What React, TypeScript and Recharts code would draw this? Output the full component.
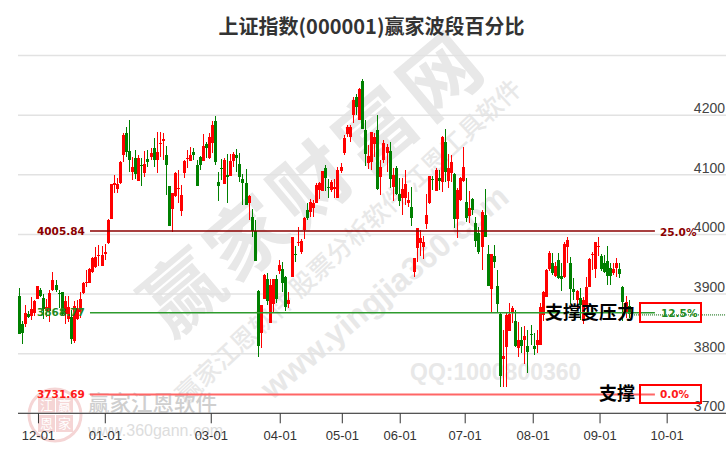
import { ComposedChart, Bar, XAxis, YAxis, CartesianGrid, ReferenceLine } from "recharts";

const opens = [
  3896, 3849, 3849, 3866, 3864, 3869, 3892, 3907, 3893, 3871,
  3872, 3907, 3916, 3901, 3904, 3867, 3858, 3861, 3821, 3858,
  3870, 3902, 3919, 3919, 3937, 3945, 3964, 3947, 3968, 3986,
  4026, 4083, 4076, 4086, 4133, 4170, 4140, 4105, 4128, 4090,
  4116, 4103, 4127, 4130, 4145, 4125, 4151, 4157, 4133, 4081,
  4043, 4065, 4076, 4039, 4103, 4126, 4123, 4138, 4117, 4130,
  4123, 4152, 4128, 4154, 4190, 4088, 4111, 4085, 4100, 4098,
  4123, 4133, 4118, 4093, 4086, 4053, 4029, 4006, 3905, 3834,
  3892, 3925, 3851, 3883, 3925, 3939, 3942, 3928, 3883, 3929,
  3968, 3985, 3971, 4008, 4041, 4038, 4045, 4053, 4075, 4073,
  4112, 4080, 4075, 4077, 4061, 4107, 4137, 4169, 4164, 4200,
  4231, 4192, 4258, 4175, 4120, 4122, 4152, 4175, 4096, 4125,
  4137, 4140, 4080, 4112, 4068, 4061, 4061, 4053, 4046, 3937,
  3977, 3986, 3979, 4018, 4053, 4093, 4073, 4094, 4088, 4155,
  4090, 4103, 4102, 4026, 4058, 4090, 4054, 4031, 4059, 4019,
  4003, 3979, 4033, 3967, 3909, 3964, 3914, 3867, 3791, 3811,
  3838, 3868, 3855, 3810, 3823, 3823, 3813, 3833, 3813, 3815,
  3815, 3865, 3895, 3942, 3952, 3930, 3957, 3930, 3929, 3979,
  3952, 3908, 3890, 3893, 3855, 3878, 3912, 3966, 3942, 3979,
  3964, 3952, 3956, 3944, 3935, 3944, 3942, 3912, 3869, 3880,
];

const closes = [
  3833, 3835, 3868, 3862, 3875, 3889, 3914, 3897, 3875, 3879,
  3902, 3924, 3907, 3900, 3867, 3889, 3879, 3825, 3880, 3877,
  3892, 3919, 3921, 3942, 3961, 3963, 3966, 3966, 3970, 4024,
  4085, 4087, 4085, 4122, 4167, 4138, 4125, 4113, 4101, 4128,
  4114, 4118, 4122, 4137, 4125, 4138, 4153, 4160, 4117, 4014,
  4070, 4103, 4078, 4066, 4123, 4129, 4133, 4133, 4081, 4117,
  4148, 4145, 4164, 4184, 4122, 4081, 4109, 4125, 4096, 4123,
  4135, 4128, 4096, 4086, 4050, 4065, 4006, 3955, 3813, 3882,
  3932, 3889, 3915, 3925, 3892, 3949, 3919, 3879, 3890, 3996,
  3966, 3988, 3989, 4028, 4028, 4054, 4053, 4083, 4086, 4107,
  4095, 4078, 4088, 4079, 4108, 4113, 4162, 4180, 4180, 4226,
  4214, 4244, 4177, 4135, 4132, 4172, 4163, 4077, 4113, 4153,
  4147, 4093, 4100, 4068, 4056, 4076, 4085, 4058, 4028, 3961,
  4011, 3994, 3987, 4033, 4098, 4091, 4108, 4090, 4163, 4105,
  4112, 4122, 4026, 4075, 4095, 4113, 4028, 4045, 4041, 3989,
  3971, 4038, 3996, 3914, 3967, 3954, 3883, 3762, 3796, 3865,
  3866, 3877, 3813, 3823, 3813, 3830, 3803, 3831, 3808, 3823,
  3878, 3903, 3940, 3969, 3935, 3947, 3927, 3925, 3984, 3991,
  3908, 3903, 3905, 3882, 3890, 3912, 3959, 3968, 3987, 3981,
  3942, 3937, 3930, 3930, 3942, 3952, 3934, 3887, 3887, 3866,
];

const highs = [
  3911, 3855, 3882, 3872, 3895, 3890, 3914, 3910, 3900, 3892,
  3906, 3937, 3924, 3906, 3904, 3897, 3897, 3873, 3888, 3890,
  3904, 3920, 3940, 3944, 3962, 3979, 3983, 3981, 3984, 4026,
  4085, 4100, 4095, 4123, 4170, 4180, 4192, 4130, 4142, 4133,
  4128, 4140, 4142, 4145, 4162, 4172, 4172, 4170, 4148, 4081,
  4070, 4105, 4108, 4083, 4125, 4142, 4147, 4145, 4125, 4132,
  4168, 4155, 4170, 4190, 4199, 4105, 4127, 4128, 4135, 4135,
  4138, 4143, 4137, 4101, 4110, 4067, 4043, 4024, 3907, 3882,
  3934, 3935, 3925, 3925, 3932, 3957, 3954, 3930, 3904, 3996,
  3981, 4012, 3993, 4030, 4053, 4060, 4058, 4086, 4088, 4107,
  4117, 4093, 4091, 4093, 4113, 4120, 4167, 4184, 4184, 4231,
  4235, 4246, 4260, 4192, 4150, 4172, 4170, 4200, 4125, 4158,
  4152, 4155, 4112, 4115, 4095, 4095, 4108, 4072, 4080, 3961,
  4011, 4008, 3997, 4068, 4098, 4098, 4112, 4108, 4165, 4177,
  4135, 4133, 4103, 4078, 4097, 4147, 4095, 4073, 4061, 4029,
  4012, 4041, 4076, 3982, 3967, 3982, 3940, 3870, 3840, 3868,
  3885, 3880, 3873, 3853, 3845, 3846, 3840, 3848, 3835, 3840,
  3885, 3905, 3942, 3972, 3969, 3954, 3969, 3952, 3987, 3996,
  3962, 3927, 3907, 3910, 3895, 3928, 3960, 3970, 3987, 3996,
  3967, 3966, 3981, 3952, 3952, 3961, 3952, 3913, 3897, 3890,
];

const lows = [
  3833, 3817, 3845, 3860, 3857, 3864, 3891, 3895, 3858, 3862,
  3853, 3905, 3903, 3877, 3864, 3850, 3853, 3816, 3818, 3856,
  3860, 3900, 3912, 3918, 3936, 3943, 3947, 3947, 3957, 3984,
  4026, 4070, 4070, 4085, 4122, 4130, 4105, 4091, 4093, 4090,
  4081, 4096, 4113, 4125, 4113, 4103, 4130, 4125, 4066, 4014,
  4004, 4063, 4053, 4031, 4095, 4112, 4123, 4125, 4081, 4108,
  4123, 4128, 4127, 4137, 4117, 4056, 4092, 4085, 4053, 4098,
  4113, 4105, 4088, 4049, 4050, 4024, 3996, 3955, 3794, 3810,
  3892, 3882, 3851, 3870, 3885, 3934, 3904, 3872, 3877, 3929,
  3954, 3981, 3967, 3992, 4024, 4030, 4029, 4053, 4060, 4073,
  4073, 4061, 4071, 4061, 4061, 4103, 4133, 4164, 4155, 4187,
  4200, 4192, 4177, 4115, 4110, 4108, 4130, 4075, 4066, 4120,
  4105, 4078, 4056, 4066, 4048, 4033, 4049, 4046, 4014, 3928,
  3954, 3964, 3959, 4009, 4051, 4075, 4073, 4075, 4071, 4088,
  4078, 4088, 4011, 3994, 4056, 4088, 4021, 4019, 4033, 3979,
  3968, 3940, 3996, 3913, 3870, 3944, 3868, 3744, 3744, 3744,
  3838, 3851, 3812, 3794, 3801, 3783, 3768, 3815, 3798, 3801,
  3815, 3855, 3895, 3939, 3932, 3928, 3925, 3905, 3927, 3952,
  3883, 3890, 3873, 3857, 3850, 3875, 3912, 3940, 3927, 3964,
  3939, 3935, 3915, 3915, 3932, 3929, 3927, 3855, 3860, 3860,
];

const monthLabels = ["12-01", "01-01", "03-01", "04-01", "05-01", "06-01", "07-01", "08-01", "09-01", "10-01"];
const monthTicks = [6.26, 28.06, 62.64, 85.15, 105.4, 124.3, 145.5, 167.7, 189.5, 211.4];
const priceTicks = [3700, 3800, 3900, 4000, 4100, 4200];

const resistance = 4005.84;
const middle = 3868.77;
const support = 3731.69;
const lastClose = 3865;

const RED = "#ff0000";
const GREEN = "#008000";
const SANS = "'Liberation Sans', Arial, sans-serif";
const CJK = "'Noto Sans CJK SC', sans-serif";
const BOLD = "'DejaVu Sans', sans-serif";

const rows = opens.map((open, i) => ({
  day: i,
  open,
  close: closes[i],
  high: highs[i],
  low: lows[i],
  range: [lows[i], highs[i]],
}));

function Candle(props: any) {
  const { x, y, width, height, payload } = props;
  const top = Math.min(y, y + height);
  const h = Math.abs(height);
  const perPoint = h / (payload.high - payload.low);
  const up = payload.close >= payload.open;
  const color = up ? RED : GREEN;
  const bodyTop = top + (payload.high - Math.max(payload.open, payload.close)) * perPoint;
  const bodyH = Math.max(1, Math.abs(payload.close - payload.open) * perPoint);
  const cx = Math.floor(x + width / 2);
  return (
    <g shapeRendering="crispEdges">
      <rect x={cx} y={top} width={1} height={h} fill={color} />
      <rect x={cx - 1} y={bodyTop} width={3} height={bodyH} fill={color} />
    </g>
  );
}

function PriceTick({ y, payload }: any) {
  return (
    <text x={725} y={y - 2} textAnchor="end" fontFamily={SANS} fontSize={14} fill="#444">
      {payload.value}
    </text>
  );
}

function MonthTick({ x, y, payload }: any) {
  const label = monthLabels[monthTicks.indexOf(payload.value)];
  return (
    <text x={x} y={y + 15} textAnchor="middle" fontFamily={SANS} fontSize={13} fill="#333">
      {label}
    </text>
  );
}

function Watermarks() {
  return (
    <svg width={726} height={450} style={{ position: "absolute", left: 0, top: 0 }}>
      <text
        transform="translate(318 188) rotate(-40)"
        textAnchor="middle"
        dominantBaseline="middle"
        fontFamily={CJK}
        fontWeight={700}
        fontSize={78}
        letterSpacing={6}
        fill="#e8e8e8"
      >
        赢家财富网
      </text>
      <text
        transform="translate(350 243) rotate(-43)"
        textAnchor="middle"
        dominantBaseline="middle"
        fontFamily={CJK}
        fontSize={25}
        fontWeight={500}
        fill="#e8e8e8"
      >
        赢家江恩软件 股票分析软件 江恩工具软件
      </text>
      <text
        transform="translate(386 294) rotate(-40)"
        textAnchor="middle"
        dominantBaseline="middle"
        fontFamily={SANS}
        fontWeight={700}
        fontSize={32}
        fill="#e8e8e8"
      >
        www.yingjia360.com
      </text>
      <text x={410} y={380} fontFamily={SANS} fontWeight={700} fontSize={23} fill="#e8e8e8">
        QQ:1000800360
      </text>
      <circle cx={55} cy={415} r={26} fill="none" stroke="#f5d5d5" strokeWidth={3} />
      <rect x={38} y={397} width={17} height={17} fill="#f5d5d5" />
      <rect x={56} y={397} width={17} height={17} fill="#f5d5d5" />
      <rect x={38} y={415} width={17} height={17} fill="#f5d5d5" />
      <rect x={56} y={415} width={17} height={17} fill="#f5d5d5" />
      <g fontFamily={CJK} fontSize={13} fill="#fff" textAnchor="middle">
        <text x={46.5} y={410}>江</text>
        <text x={64.5} y={410}>赢</text>
        <text x={46.5} y={428}>恩</text>
        <text x={64.5} y={428}>家</text>
      </g>
      <text x={88} y={411} fontFamily={CJK} fontWeight={500} fontSize={21.5} fill="#cfcfcf">
        赢家江恩软件
      </text>
      <text x={88} y={436} fontFamily={SANS} fontSize={16} fill="#dddddd">
        www.360gann.com
      </text>
    </svg>
  );
}

function Annotations() {
  return (
    <svg width={726} height={450} style={{ position: "absolute", left: 0, top: 0, pointerEvents: "none" }}>
      <text x={371.5} y={34} textAnchor="middle" fontFamily={CJK} fontWeight={700} fontSize={20} fill="#333">
        上证指数(000001)赢家波段百分比
      </text>
      <g fontFamily={BOLD} fontWeight={700} fontSize={10.5}>
        <text x={37} y={235} fill="#8b0000">4005.84</text>
        <text x={37} y={316} fill="#228b22">3868.77</text>
        <text x={37} y={398} fill="#ff1a1a">3731.69</text>
        <text x={660} y={236} fill="#8b0000">25.0%</text>
        <text x={661} y={317} fill="#228b22">12.5%</text>
        <text x={660} y={398} fill="#ff1a1a">0.0%</text>
      </g>
      <rect x={640} y={303} width={61} height={19} fill="none" stroke={RED} strokeWidth={2} />
      <rect x={640} y={385} width={61} height={18} fill="none" stroke={RED} strokeWidth={2} />
      <g fontFamily={CJK} fontWeight={700} fontSize={18} fill="#000">
        <text x={545} y={319}>支撑变压力</text>
        <text x={599} y={400}>支撑</text>
      </g>
    </svg>
  );
}

export default function App() {
  return (
    <div style={{ position: "absolute", left: 0, top: 0, width: 726, height: 450, background: "#fff" }}>
      <Watermarks />
      <div style={{ position: "absolute", left: 0, top: 0 }}>
        <ComposedChart
          width={726}
          height={450}
          data={rows}
          margin={{ top: 55.6, right: -1, bottom: 0, left: 18 }}
        >
          <CartesianGrid vertical={false} stroke="#e2e2e2" strokeWidth={1.5} />
          <XAxis
            dataKey="day"
            type="number"
            domain={[-0.42, 230.6]}
            ticks={monthTicks}
            interval={0}
            height={36.7}
            tickSize={10}
            stroke="#333"
            tick={<MonthTick />}
            allowDataOverflow
          />
          <YAxis
            orientation="right"
            width={1}
            domain={[3700, 4300]}
            ticks={priceTicks}
            interval={0}
            axisLine={false}
            tickLine={false}
            tick={<PriceTick />}
            allowDataOverflow
          />
          <Bar dataKey="range" barSize={3} shape={<Candle />} isAnimationActive={false} />
          <ReferenceLine
            segment={[{ x: 23.07, y: resistance }, { x: 207.4, y: resistance }]}
            stroke="#8b0000"
            strokeWidth={1.5}
          />
          <ReferenceLine
            segment={[{ x: 23.07, y: middle }, { x: 207.4, y: middle }]}
            stroke="#2e9b2e"
            strokeWidth={1.5}
          />
          <ReferenceLine
            segment={[{ x: 23.07, y: support }, { x: 207.4, y: support }]}
            stroke="#ff6666"
            strokeWidth={2}
          />
          <ReferenceLine
            segment={[{ x: 200.6, y: lastClose }, { x: 230.6, y: lastClose }]}
            stroke="#006400"
            strokeWidth={1}
            strokeDasharray="1 1"
          />
        </ComposedChart>
      </div>
      <Annotations />
    </div>
  );
}
